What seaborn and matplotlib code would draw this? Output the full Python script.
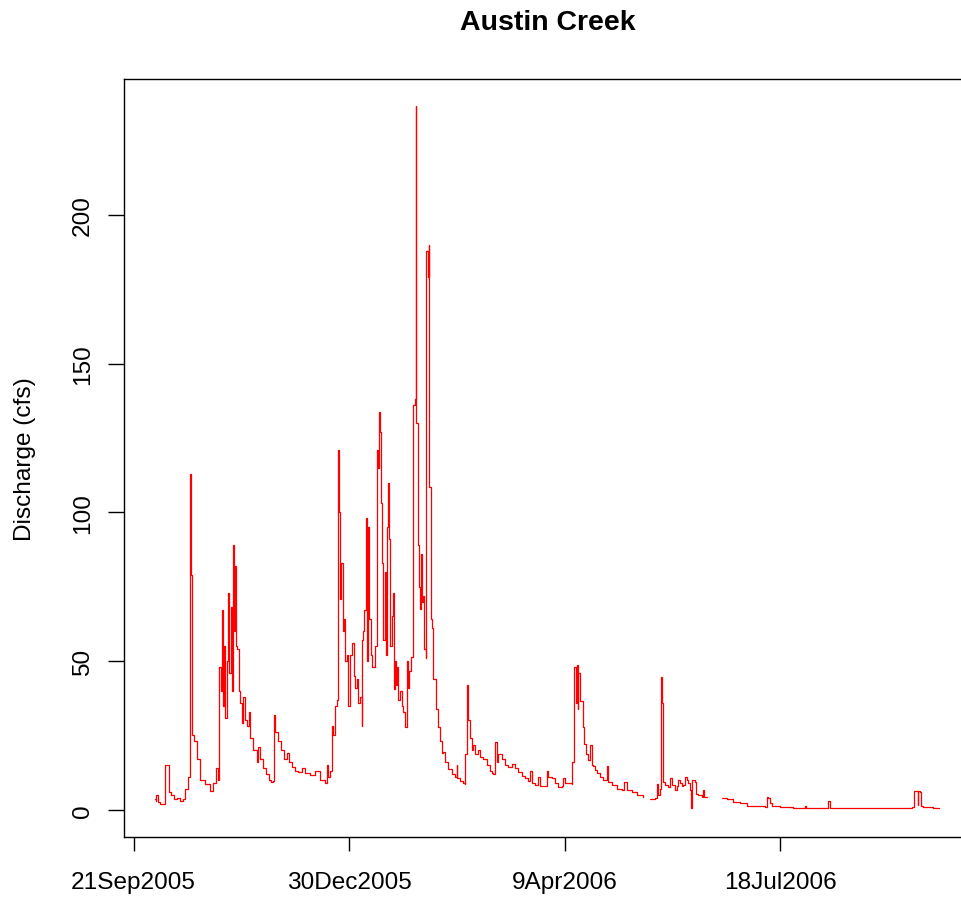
import numpy as np
import pandas as pd
import matplotlib
matplotlib.use("Agg")
import matplotlib.pyplot as plt
import seaborn as sns

# Austin Creek discharge, water year 2006
# time in days since the start of the water year (2005-10-01 00:00);
# NaN discharge marks a gap in the gauge record
day_of_water_year = [
    0.00, 0.21, 0.67, 1.14, 2.30, 4.39, 4.62, 6.01, 6.24, 7.40,
    8.79, 10.19, 11.58, 12.97, 13.90, 15.06, 15.29, 15.75, 15.99, 16.45,
    17.05, 17.29, 18.07, 19.47, 20.86, 23.18, 25.50, 26.89, 28.28, 29.21,
    29.81, 30.37, 30.93, 31.53, 32.00, 32.46, 33.16, 33.99, 34.32, 35.10,
    35.71, 36.03, 36.64, 37.10, 37.56, 38.17, 38.82, 39.42, 40.12, 40.95,
    41.74, 42.53, 43.36, 44.06, 45.45, 47.17, 47.77, 48.70, 50.09, 51.49,
    52.88, 53.81, 54.73, 54.97, 55.66, 57.05, 58.45, 59.84, 61.09, 62.16,
    63.55, 64.94, 66.33, 68.05, 69.58, 71.90, 74.22, 76.54, 78.86, 79.65,
    80.26, 81.18, 81.97, 82.58, 83.50, 84.20, 84.66, 85.13, 85.82, 86.29,
    87.08, 87.68, 88.14, 88.84, 89.68, 90.46, 91.53, 92.09, 92.79, 93.57,
    94.32, 95.11, 95.90, 96.17, 96.64, 97.10, 97.75, 98.12, 98.96, 99.28,
    99.98, 100.67, 102.07, 102.76, 103.22, 103.92, 104.39, 104.85, 105.31, 105.92,
    106.47, 107.03, 107.49, 107.96, 108.33, 109.03, 109.72, 110.56, 110.88, 111.35,
    111.81, 112.28, 112.88, 113.67, 114.46, 115.06, 115.99, 116.78, 117.15, 117.84,
    118.77, 119.47, 119.70, 120.40, 120.86, 121.23, 121.79, 122.02, 122.48, 122.95,
    123.41, 124.02, 124.48, 124.94, 125.59, 125.87, 126.43, 126.89, 127.12, 127.91,
    128.05, 128.66, 129.12, 130.23, 131.16, 132.23, 132.93, 133.76, 134.55, 135.94,
    137.66, 139.19, 139.98, 140.26, 141.51, 142.90, 143.83, 143.97, 144.62, 144.99,
    145.36, 146.15, 146.94, 147.68, 148.47, 150.00, 150.79, 152.32, 153.90, 155.43,
    156.13, 156.96, 157.75, 158.45, 159.28, 160.86, 162.39, 163.92, 165.50, 167.03,
    168.56, 170.14, 171.67, 173.20, 173.99, 174.78, 176.31, 177.84, 178.63, 180.16,
    181.74, 182.48, 184.06, 185.59, 187.12, 188.70, 189.44, 190.23, 191.76, 193.34,
    193.62, 194.41, 194.55, 195.20, 195.66, 196.13, 196.41, 197.20, 197.98, 198.45,
    199.19, 199.98, 201.04, 201.83, 202.62, 203.36, 204.15, 205.22, 206.47, 208.00,
    209.58, 210.33, 211.91, 214.23, 216.55, 217.75, 218.87, 221.19, 223.51, 226.29,
    227.50,
    229.68, 232.00, 232.79, 233.53, 234.32, 234.64, 235.11, 235.71, 236.64, 238.17,
    238.96, 239.75, 241.28, 242.07, 242.81, 243.60, 244.39, 245.13, 245.92, 246.71,
    247.45, 248.24, 248.70, 249.31, 250.56, 250.89, 252.09, 253.67, 254.41, 254.88,
    256.13,
    259.00,
    262.95, 265.27, 268.33, 271.44, 274.55, 279.19, 283.04, 283.83, 284.57, 285.36,
    286.15, 290.00, 296.04, 301.60, 302.07, 303.92, 311.68, 312.42, 312.98, 317.85,
    330.24, 332.56, 339.52, 342.44, 351.12, 352.32, 353.71, 353.90, 354.18, 354.97,
    355.43, 356.50, 361.14, 363.93,
]

discharge_cfs = [
    3.6, 3.0, 5.0, 2.5, 2.0, 2.0, 15.0, 15.0, 6.0, 5.0,
    3.5, 4.0, 3.0, 3.5, 7.0, 7.0, 11.0, 11.0, 113.0, 79.0,
    79.0, 25.0, 23.0, 17.0, 10.0, 8.6, 6.3, 9.0, 14.0, 10.0,
    48.0, 40.0, 67.0, 35.0, 55.0, 31.0, 50.0, 73.0, 46.0, 68.0,
    40.0, 89.0, 60.0, 82.0, 55.0, 54.0, 40.0, 36.0, 29.0, 38.0,
    30.0, 28.0, 33.0, 24.0, 20.0, 16.0, 21.0, 17.0, 14.0, 12.0,
    10.0, 9.3, 9.5, 32.0, 26.0, 23.0, 20.0, 17.0, 19.0, 16.0,
    14.5, 13.0, 12.6, 14.0, 12.5, 11.7, 13.0, 10.0, 9.0, 15.0,
    11.0, 13.0, 28.0, 25.0, 35.0, 37.0, 121.0, 100.0, 71.0, 83.0,
    60.0, 64.0, 50.0, 52.0, 35.0, 52.0, 56.0, 45.0, 41.0, 44.0,
    36.0, 38.0, 28.0, 57.0, 60.0, 67.0, 98.0, 50.0, 95.0, 64.0,
    52.0, 48.0, 55.0, 121.0, 115.0, 133.6, 127.0, 103.0, 83.0, 57.0,
    80.0, 52.0, 95.0, 110.0, 91.0, 55.0, 65.0, 73.0, 40.5, 50.0,
    42.0, 48.0, 37.0, 40.0, 35.0, 33.0, 27.8, 50.0, 41.0, 46.5,
    51.3, 53.0, 136.0, 138.0, 236.5, 130.0, 129.6, 89.0, 75.0, 67.5,
    86.0, 70.0, 72.0, 54.0, 51.0, 188.0, 179.0, 190.0, 108.5, 105.5,
    64.0, 61.0, 44.0, 34.0, 27.8, 23.0, 19.0, 19.4, 16.0, 13.6,
    12.0, 11.0, 15.0, 10.5, 9.6, 9.0, 8.6, 18.7, 42.0, 30.0,
    30.0, 24.0, 20.0, 21.7, 18.7, 20.0, 17.7, 17.0, 15.0, 13.0,
    12.3, 12.0, 22.7, 16.0, 18.8, 17.0, 15.0, 14.5, 15.5, 14.0,
    12.7, 11.3, 10.5, 9.6, 13.0, 9.0, 8.2, 11.0, 8.0, 7.9,
    13.0, 11.0, 10.7, 9.0, 7.8, 8.0, 10.6, 9.0, 9.0, 8.5,
    16.0, 16.0, 48.0, 36.0, 48.5, 34.0, 46.0, 36.6, 36.6, 27.8,
    22.0, 18.8, 16.6, 21.7, 15.0, 14.7, 13.3, 12.3, 11.0, 9.9,
    14.6, 9.4, 8.3, 7.0, 6.5, 9.4, 6.5, 5.8, 5.1, 4.3,
    np.nan,
    3.6, 3.8, 8.6, 5.0, 7.0, 44.5, 36.0, 9.4, 8.3, 7.8,
    10.7, 8.3, 6.5, 8.0, 10.0, 9.0, 8.0, 8.3, 10.9, 9.9,
    9.0, 6.6, 0.5, 10.0, 9.4, 5.3, 4.9, 4.3, 6.5, 4.3,
    4.2,
    np.nan,
    4.0, 3.5, 2.6, 2.2, 1.3, 1.1, 1.0, 4.3, 3.8, 2.2,
    1.1, 0.9, 0.6, 1.2, 0.6, 0.5, 0.6, 3.0, 0.7, 0.5,
    0.5, 0.7, 0.5, 0.6, 0.9, 6.3, 6.3, 1.5, 6.3, 5.8,
    1.3, 0.9, 0.6, 0.5,
]

tick_dates = ["2005-09-21", "2005-12-30", "2006-04-09", "2006-07-18"]
tick_labels = ["21Sep2005", "30Dec2005", "9Apr2006", "18Jul2006"]
y_ticks = [0, 50, 100, 150, 200]

wy_start = pd.Timestamp("2005-10-01")
df = pd.DataFrame({
    "time": wy_start + pd.to_timedelta(day_of_water_year, unit="D"),
    "discharge": discharge_cfs,
})
# each gap in the record starts a new trace segment
df["segment"] = df["discharge"].isna().cumsum()
df = df.dropna()

sns.set_style("white")
plt.rcParams["font.family"] = ["Liberation Sans", "DejaVu Sans"]
plt.rcParams["text.color"] = "black"
plt.rcParams["axes.labelcolor"] = "black"

W, H = 962, 903
fig = plt.figure(figsize=(W / 100, H / 100), dpi=100)
left, right, top, bottom = 124, 971, 80, 838
ax = fig.add_axes([left / W, 1 - bottom / H, (right - left) / W, (bottom - top) / H])

# gauge readings hold until the next reading, so draw the trace as steps
sns.lineplot(data=df, x="time", y="discharge", units="segment", estimator=None,
             color="#ff0000", linewidth=0.9, drawstyle="steps-post",
             ax=ax, legend=False)

x0 = pd.Timestamp("2005-09-21")
ax.set_xlim(x0 - pd.Timedelta(days=4.41), x0 + pd.Timedelta(days=388.6))
ax.set_ylim(-9.18, 245.7)

ax.set_xticks(pd.to_datetime(tick_dates))
ax.set_xticklabels(tick_labels)
ax.set_yticks(y_ticks)
ax.set_yticklabels([str(v) for v in y_ticks])

for s in ax.spines.values():
    s.set_color("black")
    s.set_linewidth(1.0)

ax.tick_params(axis="x", direction="out", length=10.3, width=1.0, pad=14,
               labelsize=17.6, colors="black", bottom=True)
ax.tick_params(axis="y", direction="out", length=11.3, width=1.0, pad=10.5,
               labelsize=17.6, colors="black", left=True, labelrotation=90)
for lab in ax.get_yticklabels():
    lab.set_verticalalignment("center")

ax.set_xlabel("")
ax.set_ylabel("Discharge (cfs)", fontsize=17.6)
ax.yaxis.set_label_coords((35.6 - left) / (right - left), 0.5)

fig.text(547.5 / W, 1 - 30.5 / H, "Austin Creek", ha="center", va="baseline",
         fontsize=20.5, fontweight="bold", color="black")

fig.savefig("out.png", dpi=100, facecolor="white")
